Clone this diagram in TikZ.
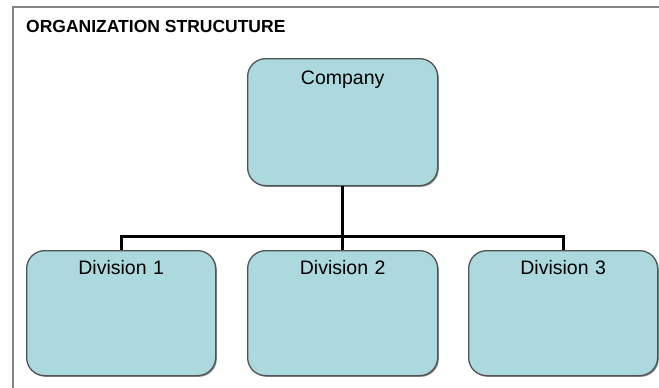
\documentclass[tikz,border=0pt]{standalone}
\usepackage{fontspec}
\setmainfont{Liberation Sans}
\usetikzlibrary{shadows}
\definecolor{boxfill}{HTML}{ACD9DD}
\definecolor{boxline}{HTML}{4F5557}
\definecolor{framegray}{HTML}{858585}
\begin{document}
\begin{tikzpicture}[x=1pt,y=-1pt,
  unitbox/.style={draw=boxline, fill=boxfill, line width=1.3pt, rounded corners=18pt,
    inner sep=0pt, text width=189pt, align=center, text depth=101pt,
    font=\fontsize{19.5}{22}\selectfont,
    drop shadow={shadow xshift=1.2pt, shadow yshift=-1.2pt, opacity=0.45, fill=black}},
  link/.style={line width=3pt, black}]
  \useasboundingbox (0,0) rectangle (659,388);
  % page frame
  \draw[framegray, line width=2pt] (13,389) -- (13,7) -- (660,7);
  % heading
  \node[anchor=base west, inner sep=0pt, font=\bfseries\fontsize{17.5}{20}\selectfont] (title) at (26,32) {ORGANIZATION STRUCUTURE};
  % boxes
  \node[unitbox, anchor=north west, text width=190pt, text height=26pt] (company) at (247,58) {Company};
  \node[unitbox, anchor=north west, text height=24pt] (div1) at (26,250) {Division 1};
  \node[unitbox, anchor=north west, text width=190pt, text height=24pt] (div2) at (247,250) {Division 2};
  \node[unitbox, anchor=north west, text height=24pt] (div3) at (468,250) {Division 3};
  % connectors
  \coordinate (bar) at (342,236);
  \draw[link] (company.south) -- (div2.north);
  \draw[link] (div1.north) |- (bar) -| (div3.north);
\end{tikzpicture}
\end{document}
